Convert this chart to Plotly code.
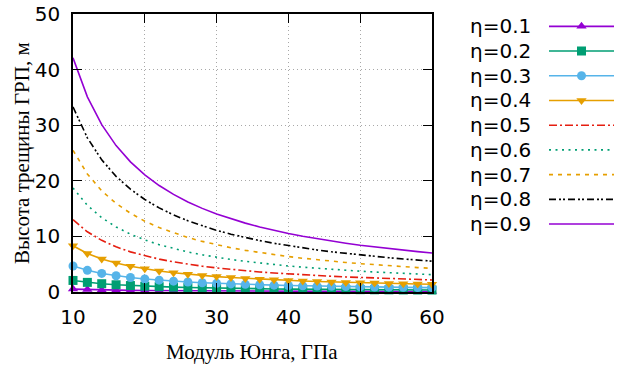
import plotly.graph_objects as go

E = [10, 12, 14, 16, 18, 20, 22, 24, 26, 28, 30, 32, 34, 36, 38, 40, 42, 44, 46, 48, 50, 52, 54, 56, 58, 60]

h01 = [0.52, 0.43, 0.37, 0.33, 0.29, 0.26, 0.24, 0.22, 0.20, 0.19, 0.17, 0.16, 0.15, 0.14, 0.14, 0.13, 0.12, 0.12, 0.11, 0.11, 0.10, 0.10, 0.10, 0.09, 0.09, 0.09]
h02 = [2.08, 1.73, 1.49, 1.30, 1.16, 1.04, 0.95, 0.87, 0.80, 0.74, 0.69, 0.65, 0.61, 0.58, 0.55, 0.52, 0.50, 0.47, 0.45, 0.43, 0.42, 0.40, 0.39, 0.37, 0.36, 0.35]
h03 = [4.68, 3.90, 3.34, 2.93, 2.60, 2.34, 2.13, 1.95, 1.80, 1.67, 1.56, 1.46, 1.38, 1.30, 1.23, 1.17, 1.11, 1.06, 1.02, 0.98, 0.94, 0.90, 0.87, 0.84, 0.81, 0.78]
h04 = [8.32, 6.93, 5.94, 5.20, 4.62, 4.16, 3.78, 3.47, 3.20, 2.97, 2.77, 2.60, 2.45, 2.31, 2.19, 2.08, 1.98, 1.89, 1.81, 1.73, 1.66, 1.60, 1.54, 1.49, 1.43, 1.39]
h05 = [13.0, 10.83, 9.29, 8.13, 7.22, 6.5, 5.91, 5.42, 5.0, 4.64, 4.33, 4.06, 3.82, 3.61, 3.42, 3.25, 3.10, 2.95, 2.83, 2.71, 2.6, 2.5, 2.41, 2.32, 2.24, 2.17]
h06 = [18.72, 15.6, 13.37, 11.7, 10.4, 9.36, 8.51, 7.8, 7.2, 6.69, 6.24, 5.85, 5.51, 5.2, 4.93, 4.68, 4.46, 4.25, 4.07, 3.9, 3.74, 3.6, 3.47, 3.34, 3.23, 3.12]
h07 = [25.48, 21.23, 18.2, 15.93, 14.16, 12.74, 11.58, 10.62, 9.8, 9.1, 8.49, 7.96, 7.49, 7.08, 6.71, 6.37, 6.07, 5.79, 5.54, 5.31, 5.1, 4.9, 4.72, 4.55, 4.39, 4.25]
h08 = [33.28, 27.73, 23.77, 20.8, 18.49, 16.64, 15.13, 13.87, 12.8, 11.89, 11.09, 10.4, 9.79, 9.24, 8.76, 8.32, 7.92, 7.56, 7.23, 6.93, 6.66, 6.4, 6.16, 5.94, 5.74, 5.55]
h09 = [42.12, 35.1, 30.09, 26.33, 23.4, 21.06, 19.15, 17.55, 16.2, 15.04, 14.04, 13.16, 12.39, 11.7, 11.08, 10.53, 10.03, 9.57, 9.16, 8.78, 8.42, 8.1, 7.8, 7.52, 7.26, 7.02]

labels = ["η=0.1", "η=0.2", "η=0.3", "η=0.4", "η=0.5", "η=0.6", "η=0.7", "η=0.8", "η=0.9"]
series = [h01, h02, h03, h04, h05, h06, h07, h08, h09]

styles = [
    dict(color="#9400D3", dash="solid", marker="triangle-up"),
    dict(color="#009E73", dash="solid", marker="square"),
    dict(color="#56B4E9", dash="solid", marker="circle"),
    dict(color="#E69F00", dash="solid", marker="triangle-down"),
    dict(color="#E51E10", dash="8px,3px,2px,3px", marker=None),
    dict(color="#009E73", dash="2px,4.5px", marker=None),
    dict(color="#E69F00", dash="4px,5px", marker=None),
    dict(color="#000000", dash="7px,3px,2px,2px,2px,3px", marker=None),
    dict(color="#9400D3", dash="solid", marker=None),
]

W, H = 623, 369
l, r, t, b = 73, 0, 14, 77
PW = W - l - r
x_right = 432  # pixel of right plot edge

fig = go.Figure()
for lab, ys, st in zip(labels, series, styles):
    mode = "lines+markers" if st["marker"] else "lines"
    fig.add_trace(go.Scatter(
        x=E, y=ys, mode=mode, name=lab, showlegend=False, cliponaxis=False,
        line=dict(color=st["color"], dash=st["dash"], width=1.6),
        marker=dict(symbol=st["marker"] or "circle", size=9, color=st["color"]),
    ))

# custom gnuplot-style legend (text left, sample right) on a helper axis
# helper axis spans pixels 460..614; sample line spans 549..614 (values 0..1)
lx0 = -(549 - 460) / (614 - 549)
n = len(labels)
for i, (lab, st) in enumerate(zip(labels, styles)):
    yv = n - 1 - i
    fig.add_trace(go.Scatter(
        x=[0, 1], y=[yv, yv], mode="lines", xaxis="x2", yaxis="y2", showlegend=False,
        line=dict(color=st["color"], dash=st["dash"], width=1.6), hoverinfo="skip",
    ))
    if st["marker"]:
        fig.add_trace(go.Scatter(
            x=[0.5], y=[yv], mode="markers", xaxis="x2", yaxis="y2", showlegend=False,
            marker=dict(symbol=st["marker"], size=9, color=st["color"]), hoverinfo="skip",
        ))
    fig.add_annotation(x=-(549 - 533) / (614 - 549), y=yv, xref="x2", yref="y2", text=lab,
                       showarrow=False, xanchor="right", yanchor="middle",
                       font=dict(family="DejaVu Sans", size=20, color="black"))

axis_common = dict(ticks="inside", ticklen=9, tickcolor="black", showline=True, linecolor="black",
                   linewidth=1.5, mirror="ticks", showgrid=True, gridcolor="#a8a8a8",
                   griddash="1px,3px", gridwidth=1, zeroline=False, automargin=False,
                   tickfont=dict(family="DejaVu Sans", size=20))

fig.update_layout(
    width=W, height=H, margin=dict(l=l, r=r, t=t, b=b, autoexpand=False), autosize=False,
    paper_bgcolor="white", plot_bgcolor="white",
    font=dict(family="DejaVu Sans", size=20, color="black"),
    xaxis=dict(range=[10, 60], tickvals=[10, 20, 30, 40, 50, 60],
               domain=[0, (x_right - l) / PW], ticklabelstandoff=6, **axis_common),
    yaxis=dict(range=[0, 50], tickvals=[0, 10, 20, 30, 40, 50], ticklabelstandoff=7,
               **axis_common),
    xaxis2=dict(domain=[(460 - l) / PW, (614 - l) / PW], range=[lx0, 1],
                visible=False, anchor="y2", fixedrange=True, automargin=False),
    yaxis2=dict(domain=[0.2, 1.0], range=[-0.5, n - 0.5],
                visible=False, anchor="x2", fixedrange=True, automargin=False),
)

fig.add_annotation(x=(252 - l) / PW, y=-(352 - 292) / (H - t - b), xref="paper", yref="paper",
                   text="Модуль Юнга, ГПа", showarrow=False, xanchor="center", yanchor="middle",
                   font=dict(family="Liberation Serif", size=21, color="black"))
fig.add_annotation(x=-(73 - 22) / PW, y=0.5, xref="paper", yref="paper",
                   text="Высота трещины ГРП, м", showarrow=False, textangle=-90,
                   xanchor="center", yanchor="middle",
                   font=dict(family="Liberation Serif", size=21, color="black"))

fig.write_html("out.html", config={"responsive": False})
